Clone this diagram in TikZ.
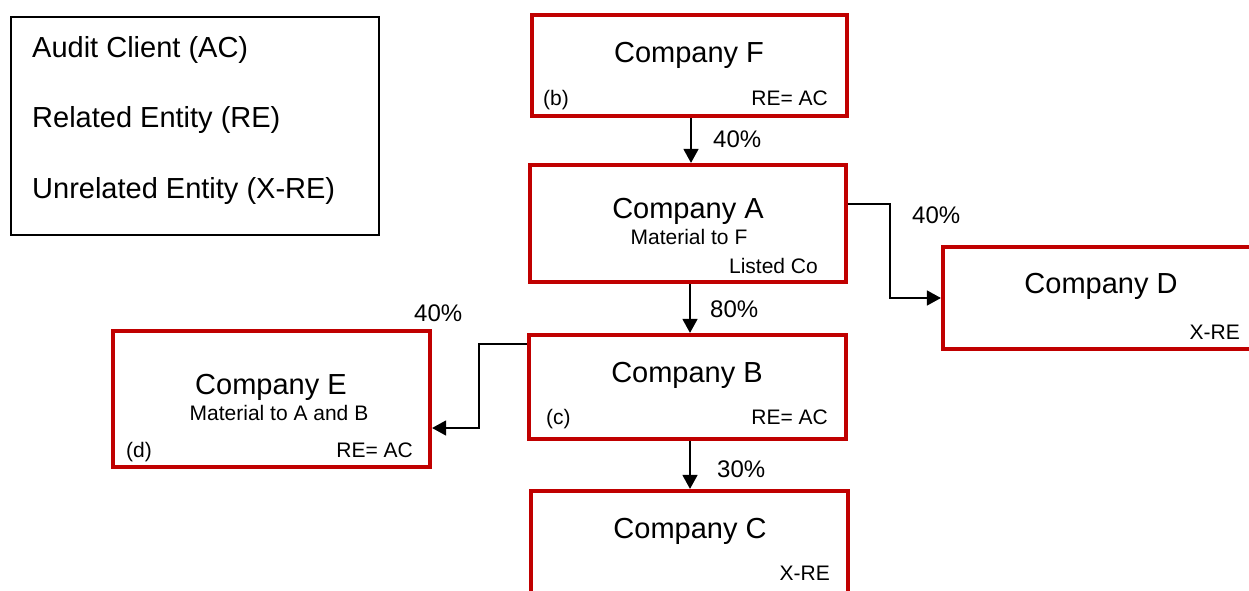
\documentclass[tikz,border=0pt]{standalone}
\usepackage{fontspec}
\setmainfont{Liberation Sans}
\usetikzlibrary{arrows.meta}
\definecolor{boxred}{HTML}{C00000}
\newcommand{\tsz}{\fontsize{29}{34}\selectfont}
\newcommand{\ssz}{\fontsize{21}{25}\selectfont}
\newcommand{\psz}{\fontsize{24}{28}\selectfont}
\begin{document}
\begin{tikzpicture}[x=1pt,y=-1pt,
  cobox/.style={draw=boxred,line width=4.2pt,rectangle,inner sep=0pt},
  conn/.style={draw=black,line width=1.5pt,-{Triangle[length=14pt,width=15pt]}},
  pct/.style={font=\psz,anchor=base west,inner sep=0pt},
  title/.style={font=\tsz,anchor=base,inner sep=0pt},
  sub/.style={font=\ssz,anchor=base,inner sep=0pt},
  sw/.style={font=\ssz,anchor=base west,inner sep=0pt},
  se/.style={font=\ssz,anchor=base east,inner sep=0pt},
  leg/.style={font=\tsz,anchor=base west,inner sep=0pt}]
\clip (0,0) rectangle (1249,590);
\fill[white] (0,0) rectangle (1249,590);
% legend
\node[draw=black,line width=1.5pt,rectangle,minimum width=368pt,minimum height=218pt,inner sep=0pt] (legend) at (195,126) {};
\node[leg] (l1) at (32,57) {Audit Client (AC)};
\node[leg] (l2) at (32,127.5) {Related Entity (RE)};
\node[leg] (l3) at (32,198) {Unrelated Entity (X-RE)};
% boxes
\node[cobox,minimum width=315pt,minimum height=101pt] (F) at (689.5,65.5) {};
\node[cobox,minimum width=316pt,minimum height=117pt] (A) at (688,223.5) {};
\node[cobox,minimum width=317pt,minimum height=104pt] (B) at (687.5,387) {};
\node[cobox,minimum width=317pt,minimum height=136pt] (E) at (271.5,399) {};
\node[cobox,minimum width=317pt,minimum height=109pt] (C) at (689.5,545.5) {};
\node[cobox,minimum width=319pt,minimum height=102pt] (D) at (1102.5,298) {};
% texts
\node[title] (Ft) at (689,62) {Company F};
\node[sw] (Fb) at (543,105) {(b)};
\node[se] (Fr) at (828,105) {RE= AC};
\node[title] (At) at (688,218) {Company A};
\node[sub] (Am) at (689,244) {Material to F};
\node[se] (Al) at (818,273) {Listed Co};
\node[title] (Bt) at (687,382) {Company B};
\node[sw] (Bc) at (546,424) {(c)};
\node[se] (Br) at (828,424) {RE= AC};
\node[title] (Et) at (271,394) {Company E};
\node[sub] (Em) at (279,420) {Material to A and B};
\node[sw] (Ed) at (126,457) {(d)};
\node[se] (Er) at (413,457) {RE= AC};
\node[title] (Ct) at (690,538) {Company C};
\node[se] (Cx) at (830,580) {X-RE};
\node[title] (Dt) at (1101,293) {Company D};
\node[se] (Dx) at (1240,339) {X-RE};
% connectors
\coordinate (fa) at (691,0);
\coordinate (ab) at (690,0);
\coordinate (bc) at (690,0);
\coordinate (ad1) at (0,204);
\coordinate (ad2) at (890,204);
\coordinate (be1) at (0,344);
\coordinate (be2) at (479,344);
\coordinate (be3) at (0,428);
\draw[conn] (F.south -| fa) -- (A.north -| fa);
\draw[conn] (A.south -| ab) -- (B.north -| ab);
\draw[conn] (B.south -| bc) -- (C.north -| bc);
\draw[conn] (A.east |- ad1) -- (ad2) |- (D.west);
\draw[conn] (B.west |- be1) -- (be2) |- (E.east |- be3);
% percentages
\node[pct] (p1) at (713,147) {40\%};
\node[pct] (p2) at (710,317) {80\%};
\node[pct] (p3) at (717,477) {30\%};
\node[pct] (p4) at (912,223) {40\%};
\node[pct] (p5) at (414,321) {40\%};
\end{tikzpicture}
\end{document}
